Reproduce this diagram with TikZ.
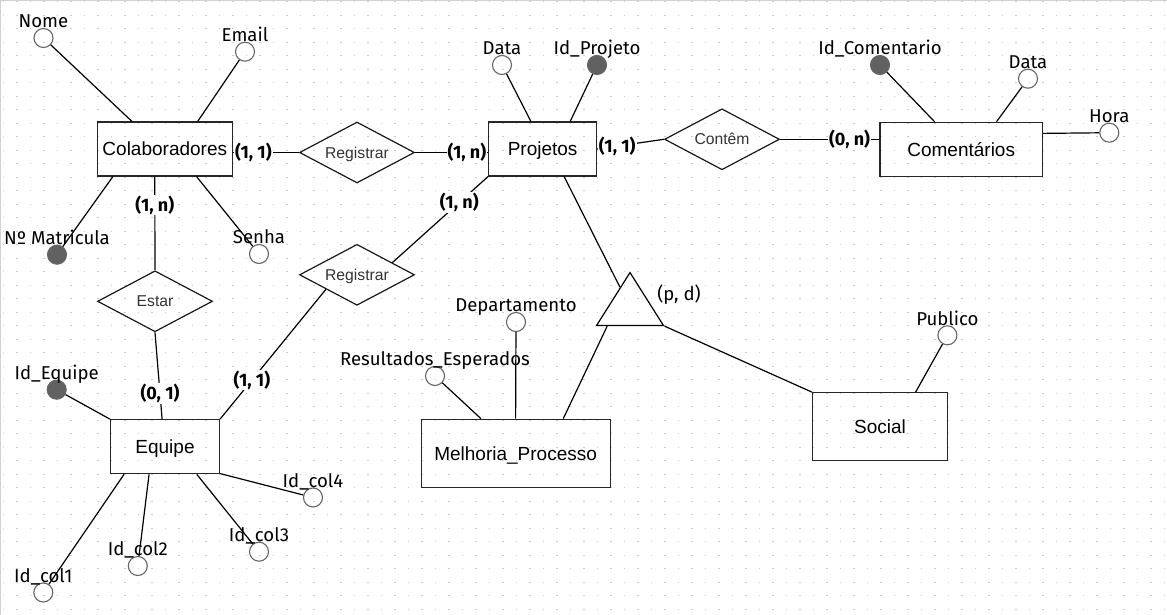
\documentclass[tikz,border=0pt]{standalone}
\usepackage{fontspec}
\setmainfont{Liberation Sans}
\newfontfamily\firafont{Fira Sans}
\usetikzlibrary{shapes.geometric,calc}

\begin{document}
\begin{tikzpicture}[x=1pt,y=-1pt,line width=1.2pt,
 entity/.style={draw=black!85,minimum height=54pt,inner sep=0pt,text height=13.6pt,text depth=0pt,font=\fontsize{19}{22}\selectfont},
 rel/.style={draw=black!90,diamond,aspect=1.9,minimum width=115pt,minimum height=61pt,inner sep=0pt,text height=11.2pt,text depth=0pt,text=black!80,font=\fontsize{15.7}{18}\selectfont},
 attr/.style={circle,draw=black!60,minimum size=19pt,inner sep=0pt,line width=1.1pt,label distance=5pt},
 keyattr/.style={attr,fill=black!62},
 attrtxt/.style={font=\firafont\fontsize{18.6}{22}\selectfont,anchor=base,inner sep=0pt,text=black},
 card/.style={font=\firafont\bfseries\fontsize{18}{22}\selectfont,fill=white,inner sep=1pt}]
\useasboundingbox (0,0) rectangle (1167,615);
\foreach \gy in {0,...,45}
  \draw[black!20,line width=1.3pt,dash pattern=on 1.3pt off 12.2pt] (2.85,{1.7+13.5*\gy}) -- (1167,{1.7+13.5*\gy});
\draw[black!18,line width=1pt] (0.5,615) -- (0.5,0.5) -- (1167,0.5);

\node[entity,minimum width=135pt] (colab) at (164.8,149) {Colaboradores};
\node[rel] (reg1) at (357,152.5) {Registrar};
\node[entity,minimum width=108pt] (proj) at (542.6,149) {Projetos};
\node[rel] (contem) at (722,139.3) {Contêm};
\node[entity,minimum width=162.5pt] (coment) at (961.2,149.3) {Comentários};
\node[rel] (estar) at (155,301.3) {Estar};
\node[rel] (reg2) at (357,274.8) {Registrar};
\node[entity,minimum width=109pt] (equipe) at (165,446.7) {Equipe};
\node[entity,minimum width=189pt,minimum height=68pt] (melh) at (515.6,453.3) {Melhoria\_Processo};
\node[entity,minimum width=135pt,minimum height=67.6pt] (social) at (880,426.5) {Social};
\node[draw,isosceles triangle,isosceles triangle stretches,shape border rotate=90,
  minimum width=67pt,minimum height=53pt,inner sep=0pt,anchor=apex] (tri) at (630,271) {};
\node[font=\firafont\fontsize{18.6}{22}\selectfont] (pd) at (679,295) {(p, d)};

\node[attr,label={[attrtxt]above:Nome}] (nome) at (43.5,38) {};
\node[attr,label={[attrtxt]above:Email}] (email) at (245,51.7) {};
\node[keyattr,label={[attrtxt]above:Nº Matricula}] (matric) at (57,254.7) {};
\node[attr,label={[attrtxt]above:Senha}] (senha) at (259,254) {};
\node[attr,label={[attrtxt]above:Data}] (datap) at (502,65) {};
\node[keyattr,label={[attrtxt]above:Id\_Projeto}] (idproj) at (597,65) {};
\node[keyattr,label={[attrtxt]above:Id\_Comentario}] (idcom) at (880,65) {};
\node[attr,label={[attrtxt]above:Data}] (datac) at (1028,78.7) {};
\node[attr,label={[attrtxt]above:Hora}] (hora) at (1109.3,132.7) {};
\node[attr,label={[attrtxt]above:Departamento}] (depto) at (516,322) {};
\node[attr,label={[attrtxt]above:Resultados\_Esperados}] (result) at (435,376) {};
\node[attr,label={[attrtxt]above:Publico}] (publico) at (947.4,335.3) {};
\node[keyattr,label={[attrtxt]above:Id\_Equipe}] (idequipe) at (56.7,389.7) {};
\node[attr,label={[attrtxt]above:Id\_col4}] (col4) at (313,497.5) {};
\node[attr,label={[attrtxt]above:Id\_col3}] (col3) at (259,551.7) {};
\node[attr,label={[attrtxt]above:Id\_col2}] (col2) at (137.8,566) {};
\node[attr,label={[attrtxt]above:Id\_col1}] (col1) at (43.3,592.5) {};

\draw (reg1.west -| colab.east) -- node[card,pos=0.31]{(1, 1)} (reg1.west);
\draw (reg1.east) -- node[card,pos=0.71]{(1, n)} (reg1.east -| proj.west);
\draw (proj.east) -- node[card,pos=0.3]{(1, 1)} (contem.west);
\draw (contem.east) -- node[card,pos=0.7]{(0, n)} (contem.east -| coment.west);
\draw (colab.-110) -- node[card,pos=0.305]{(1, n)} (estar.north);
\draw (estar.south) -- node[card,pos=0.705]{(0, 1)} (equipe.96);
\draw (equipe.north east) -- node[card,pos=0.3]{(1, 1)} (reg2.-155);
\draw (reg2.19) -- node[card,pos=0.7]{(1, n)} (proj.south west);

\draw (proj.-52) -- (tri);
\draw ($(tri.left corner)!0.17!(tri.right corner)$) -- (melh.36);
\draw (tri.right corner) -- (social.north west);

\draw (colab.140) -- (nome);
\draw (colab.40) -- (email);
\draw (colab.-152.5) -- (matric);
\draw (colab.-41) -- (senha);
\draw (proj.113.6) -- (datap);
\draw (proj.45.6) -- (idproj);
\draw (coment.134.7) -- (idcom);
\draw (coment.38.1) -- (datac);
\draw (coment.11.3) -- (hora);
\draw (melh.north) -- (depto);
\draw (melh.135.2) -- (result);
\draw (social.44.6) -- (publico);
\draw (equipe.north west) -- (idequipe);
\draw (equipe.-26) -- (col4);
\draw (equipe.-41) -- (col3);
\draw (equipe.-120) -- (col2);
\draw (equipe.-146.6) -- (col1);
\end{tikzpicture}
\end{document}
